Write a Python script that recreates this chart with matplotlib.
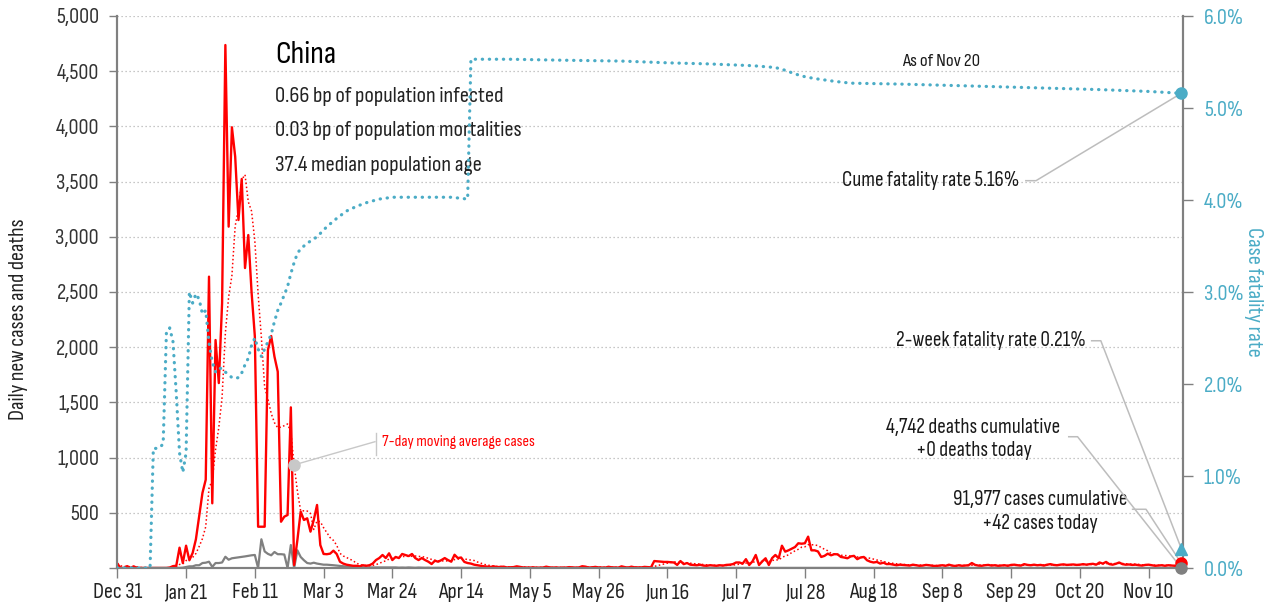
import matplotlib
matplotlib.use('Agg')
import matplotlib.pyplot as plt
import pandas as pd

plt.rcParams['font.family'] = ['Sofia Sans Condensed', 'DejaVu Sans']

RED = '#ff0000'
TEAL = '#4bacc6'
GREY = '#808080'
LEAD = '#bdbdbd'

# daily new cases, Dec 31 .. Nov 20
cases = [
    40, 0, 0, 17, 0, 15, 0, 0, 0, 0,
    0, 0, 0, 0, 0, 0, 4, 17, 20, 184,
    45, 202, 70, 136, 260, 470, 680, 800, 2639, 586,
    2065, 1675, 2400, 4737, 3092, 3992, 3726, 3152, 3524, 2717,
    3016, 2500, 2100, 374, 374, 374, 1975, 2101, 1914, 1778,
    419, 465, 480, 1455, 27, 254, 510, 435, 450, 329,
    435, 571, 208, 127, 125, 130, 157, 127, 57, 40,
    30, 25, 20, 20, 15, 25, 20, 25, 40, 72,
    90, 118, 90, 133, 72, 100, 90, 127, 118, 108,
    127, 90, 72, 90, 72, 57, 36, 66, 57, 72,
    90, 72, 57, 120, 90, 95, 55, 45, 40, 30,
    25, 20, 15, 12, 10, 15, 8, 10, 12, 5,
    6, 8, 15, 10, 5, 4, 3, 6, 2, 3,
    4, 12, 6, 3, 5, 2, 4, 3, 8, 5,
    3, 5, 16, 12, 4, 6, 10, 5, 4, 3,
    11, 6, 4, 3, 15, 8, 3, 12, 6, 5,
    5, 10, 8, 6, 63, 60, 58, 55, 55, 52,
    50, 28, 63, 35, 45, 30, 28, 25, 30, 22,
    20, 25, 22, 20, 25, 22, 28, 30, 35, 50,
    50, 40, 80, 27, 60, 118, 27, 60, 88, 27,
    90, 118, 88, 202, 148, 160, 175, 190, 224, 220,
    224, 284, 160, 160, 150, 100, 110, 130, 115, 125,
    124, 100, 95, 88, 105, 110, 80, 95, 100, 70,
    57, 50, 55, 40, 48, 35, 36, 30, 25, 30,
    28, 25, 22, 30, 25, 20, 22, 28, 25, 20,
    18, 22, 25, 20, 30, 22, 18, 25, 20, 22,
    25, 45, 28, 22, 20, 25, 28, 22, 25, 20,
    22, 25, 20, 28, 30, 25, 22, 35, 28, 25,
    30, 25, 28, 22, 30, 35, 28, 25, 30, 33,
    28, 30, 32, 28, 30, 35, 30, 35, 38, 30,
    50, 40, 55, 35, 30, 38, 50, 35, 30, 32,
    28, 30, 25, 22, 28, 30, 25, 20, 22, 25,
    20, 25, 22, 20, 18, 42,
]

# daily new deaths
deaths = [
    0, 0, 0, 0, 0, 0, 0, 0, 0, 0,
    0, 1, 0, 0, 0, 0, 0, 1, 0, 1,
    3, 9, 15, 15, 25, 25, 45, 48, 57, 10,
    45, 45, 50, 102, 75, 88, 92, 95, 100, 105,
    110, 115, 118, 0, 260, 150, 128, 115, 145, 125,
    125, 122, 0, 208, 0, 160, 100, 70, 45, 40,
    48, 40, 35, 30, 30, 28, 25, 22, 20, 15,
    12, 10, 10, 8, 8, 6, 5, 5, 6, 5,
    5, 4, 5, 6, 4, 5, 3, 4, 3, 5,
    3, 2, 4, 3, 2, 3, 1, 2, 2, 1,
    1, 2, 1, 1, 2, 1, 1, 1, 0, 1,
    0, 1, 0, 0, 1, 0, 0, 0, 1, 0,
    0, 0, 1, 0, 0, 0, 0, 0, 0, 0,
    0, 0, 0, 0, 0, 0, 0, 0, 0, 0,
    0, 0, 0, 0, 0, 0, 0, 0, 0, 0,
    0, 0, 0, 0, 0, 0, 0, 0, 0, 0,
    0, 0, 0, 0, 0, 0, 0, 0, 0, 0,
    0, 0, 0, 0, 0, 0, 0, 0, 0, 0,
    0, 0, 0, 0, 0, 0, 0, 0, 0, 0,
    0, 0, 0, 0, 0, 0, 0, 0, 0, 0,
    0, 0, 0, 0, 0, 0, 0, 0, 0, 0,
    0, 0, 0, 0, 0, 0, 0, 0, 0, 0,
    0, 0, 0, 0, 0, 0, 0, 0, 0, 0,
    0, 0, 0, 0, 0, 0, 0, 0, 0, 0,
    0, 0, 0, 0, 0, 0, 0, 0, 0, 0,
    0, 0, 0, 0, 0, 0, 0, 0, 0, 0,
    0, 0, 0, 0, 0, 0, 0, 0, 0, 0,
    0, 0, 0, 0, 0, 0, 0, 0, 0, 0,
    0, 0, 0, 0, 0, 0, 0, 0, 0, 0,
    0, 0, 0, 0, 0, 0, 0, 0, 0, 0,
    0, 0, 0, 0, 0, 0, 0, 0, 0, 0,
    0, 0, 0, 0, 0, 0, 0, 0, 0, 0,
    0, 0, 0, 0, 0, 0,
]

# cumulative case fatality rate (%), by day index
cfr_day = list(range(0, 53)) + [
    53, 54, 55, 56, 58, 61, 64, 67, 70, 73, 76, 80, 84, 90, 96, 102, 107,
    108, 120, 135, 154, 169, 180, 194, 201, 204, 207, 210, 213, 219, 224,
    239, 260, 280, 300, 315, 325]
cfr_pct = [
    0, 0, 0, 0, 0, 0, 0, 0, 0, 0, 0,
    1.30, 1.30, 1.31, 1.35, 2.57, 2.61, 2.46, 1.90, 1.25, 1.04,
    1.25, 3.00, 2.88, 2.98, 2.92, 2.76, 2.80, 2.45, 2.24, 2.13,
    2.17, 2.17, 2.13, 2.10, 2.07, 2.06, 2.07, 2.12, 2.21, 2.28,
    2.42, 2.50, 2.38, 2.30, 2.38, 2.46, 2.54, 2.68, 2.80, 2.88,
    2.97, 3.06,
    3.20, 3.32, 3.42, 3.47, 3.53, 3.60, 3.71, 3.80, 3.88, 3.93, 3.97,
    4.01, 4.03, 4.03, 4.03, 4.03, 4.01,
    5.53, 5.53, 5.52, 5.51, 5.49, 5.48, 5.46, 5.44, 5.41, 5.37, 5.34,
    5.32, 5.29, 5.27, 5.26, 5.24, 5.22, 5.20, 5.18, 5.16]

cfr_now = 5.16
cfr_2wk = 0.21

tick_labels = ['Dec 31', 'Jan 21', 'Feb 11', 'Mar 3', 'Mar 24', 'Apr 14', 'May 5',
               'May 26', 'Jun 16', 'Jul 7', 'Jul 28', 'Aug 18', 'Sep 8', 'Sep 29',
               'Oct 20', 'Nov 10']

days = list(range(len(cases)))
ma7 = pd.Series(cases).rolling(7, min_periods=1).mean()

fig = plt.figure(figsize=(12.73, 6.08), dpi=100)
ax = fig.add_axes([117 / 1273, 40 / 608, 1066 / 1273, 552 / 608])
ax2 = ax.twinx()

### left axis: cases and deaths
ax.plot(days, deaths, color=GREY, lw=1.6, zorder=3)
ax.plot(days, cases, color=RED, lw=1.7, zorder=4)
ax.plot(days, ma7, color=RED, lw=1.1, ls=(0, (1, 1.6)), zorder=4)

ax.set_xlim(-0.1, 325.5)
ax.set_ylim(0, 5000)
ax.set_yticks(range(0, 5001, 500))
ax.set_yticklabels(['' if v == 0 else f'{v:,}' for v in range(0, 5001, 500)])
ax.set_xticks(range(0, 21 * len(tick_labels), 21))
ax.set_xticklabels(tick_labels)
ax.grid(axis='y', color='#b5b5b5', lw=0.9, ls=(0, (1, 2.2)))
ax.set_axisbelow(True)

ax.spines['top'].set_visible(False)
ax2.spines['top'].set_visible(False)
for s in ['left', 'bottom', 'right']:
    for a in (ax, ax2):
        a.spines[s].set_color(GREY)
        a.spines[s].set_linewidth(1.5)

ax.tick_params(axis='y', length=6, width=1, color=GREY, pad=7, labelsize=16, labelcolor='#333333')
ax.tick_params(axis='x', length=7, width=1, color=GREY, pad=4, labelsize=16, labelcolor='#222222')
ax.set_ylabel('Daily new cases and deaths', fontsize=16, color='#222222')
ax.yaxis.set_label_coords(-0.0835, 0.45)

### right axis: case fatality rate
ax2.plot(cfr_day, cfr_pct, color=TEAL, lw=2.3, ls=(0, (0.1, 2.1)),
         dash_capstyle='round', zorder=5)
ax2.set_ylim(0, 6)
ax2.set_yticks(range(0, 7))
ax2.set_yticklabels([f'{v:.1f}%' for v in range(0, 7)])
ax2.tick_params(axis='y', length=7, width=1, color=GREY, pad=8, labelsize=16, labelcolor=TEAL)
ax2.set_ylabel('Case fatality rate', fontsize=16.3, color=TEAL, rotation=270)
ax2.yaxis.set_label_coords(1.075, 0.5)

# end markers
last = days[-1]
ax2.plot([last], [cfr_2wk], marker='^', ms=9, color=TEAL, clip_on=False, zorder=6)
ax2.plot([last], [cfr_now], marker='o', ms=8, color=TEAL, clip_on=False, zorder=6)
ax2.plot([last], [cases[-1] * 6 / 5000], marker='o', ms=8, color=RED, clip_on=False, zorder=6)
ax2.plot([last], [deaths[-1]], marker='o', ms=8, color=GREY, clip_on=False, zorder=7)

### annotations
txt = dict(fontsize=15.3, color='#1a1a1a')
ax2.plot([277.5, 280.6, last], [4.21, 4.21, cfr_now], color=LEAD, lw=1.1, zorder=4)
ax2.text(275.5, 4.21, 'Cume fatality rate 5.16%', ha='right', va='center', **txt)
ax2.text(251.6, 5.51, 'As of Nov 20', ha='center', va='center', fontsize=13.6, color='#1a1a1a')

ax2.plot([297.6, 300.4, last], [2.47, 2.47, cfr_2wk], color=LEAD, lw=1.1, zorder=4)
ax2.text(295.7, 2.47, '2-week fatality rate 0.21%', ha='right', va='center', **txt)

ax.plot([290.6, 293.3, last], [1189, 1189, deaths[-1]], color=LEAD, lw=1.1, zorder=4)
ax.text(261.5, 1170, '4,742 deaths cumulative\n+0 deaths today', ha='center', va='center',
        linespacing=1.3, **txt)

ax.plot([310.1, 314.2, last], [532, 532, cases[-1]], color=LEAD, lw=1.1, zorder=4)
ax.text(281.8, 510, '91,977 cases cumulative\n+42 cases today', ha='center', va='center',
        linespacing=1.3, **txt)

# 7-day average callout
ax.plot([54], [ma7[54]], marker='o', ms=8, color='#c8c8c8', zorder=6)
ax.plot([54, 78.7], [ma7[54], 1144], color='#c8c8c8', lw=1, zorder=5)
ax.plot([78.9, 78.9], [1024, 1223], color='#c8c8c8', lw=1, zorder=5)
ax.text(80.7, 1144, '7-day moving average cases', ha='left', va='center', fontsize=11.7, color=RED)

# country block
ax.text(0.148, 0.929, 'China', transform=ax.transAxes, fontsize=23, ha='left', va='center',
        color='#000000')
info = ['0.66 bp of population infected', '0.03 bp of population mortalities',
        '37.4 median population age']
for i, line in enumerate(info):
    ax.text(0.148, 0.855 - i * 0.0625, line, transform=ax.transAxes, fontsize=16.4,
            ha='left', va='center', color='#222222')

fig.savefig('out.png', dpi=100)
